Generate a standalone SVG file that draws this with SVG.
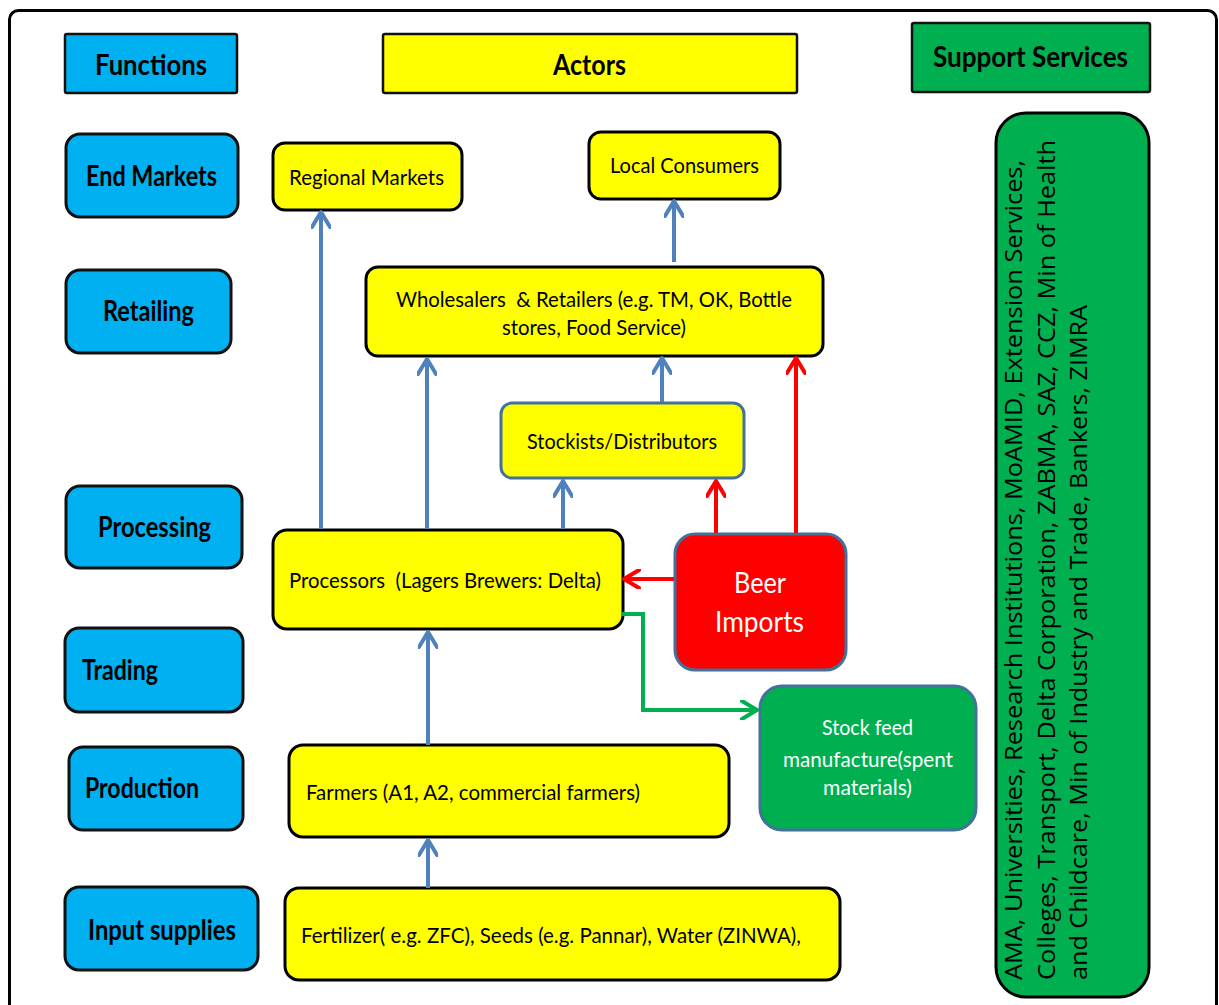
<svg xmlns="http://www.w3.org/2000/svg" width="1219" height="1005" viewBox="0 0 1219 1005">
<defs>
<style>
.frame{fill:#fff;stroke:#000;stroke-width:3}
.hdr{stroke:#111;stroke-width:2.5}
.fn{fill:#00B0F0;stroke:#111;stroke-width:3}
.ya{fill:#FFFF00;stroke:#000;stroke-width:3}
.yb{fill:#FFFF00;stroke:#41719C;stroke-width:3}
.red{fill:#FF0000;stroke:#41719C;stroke-width:3}
.grn{fill:#00B050;stroke:#41719C;stroke-width:3}
.sup{fill:#00B050;stroke:#000;stroke-width:3}
.hb{font-family:Lato,"Noto Sans","Liberation Sans",sans-serif;font-weight:bold;font-size:28px;fill:#000}
.t{font-family:Lato,"Noto Sans","Liberation Sans",sans-serif;font-size:22px;fill:#000;white-space:pre}
.tw{font-family:Lato,"Noto Sans","Liberation Sans",sans-serif;fill:#fff}
.rot{font-family:"Open Sans","Noto Sans","DejaVu Sans",sans-serif;font-size:24px;fill:#000}
.cb{fill:none;stroke:#4F81BD;stroke-width:4}
.cr{fill:none;stroke:#FF0000;stroke-width:4}
.cg{fill:none;stroke:#00B050;stroke-width:4}
</style>
<marker id="ab" viewBox="0 0 20 20" refX="17" refY="10" markerWidth="20" markerHeight="20" markerUnits="userSpaceOnUse" orient="auto"><path d="M2,1 L17,10 L2,19" fill="none" stroke="#4F81BD" stroke-width="4" stroke-linecap="round" stroke-linejoin="round"/></marker>
<marker id="ar" viewBox="0 0 20 20" refX="17" refY="10" markerWidth="20" markerHeight="20" markerUnits="userSpaceOnUse" orient="auto"><path d="M2,1 L17,10 L2,19" fill="none" stroke="#FF0000" stroke-width="4" stroke-linecap="round" stroke-linejoin="round"/></marker>
<marker id="ag" viewBox="0 0 20 20" refX="17" refY="10" markerWidth="20" markerHeight="20" markerUnits="userSpaceOnUse" orient="auto"><path d="M2,1 L17,10 L2,19" fill="none" stroke="#00B050" stroke-width="4" stroke-linecap="round" stroke-linejoin="round"/></marker>
</defs>
<rect width="1219" height="1005" fill="#fff"/>
<rect class="frame" x="9.5" y="10.5" width="1207" height="1010" rx="9"/>

<g id="hdr-functions"><rect class="hdr" x="65" y="34" width="172" height="59" rx="2" fill="#00B0F0"/><text class="hb" x="95" y="75" textLength="112" lengthAdjust="spacingAndGlyphs">Functions</text></g>
<g id="hdr-actors"><rect class="hdr" x="383" y="34" width="414" height="59" rx="2" fill="#FFFF00"/><text class="hb" x="553" y="75" textLength="73" lengthAdjust="spacingAndGlyphs">Actors</text></g>
<g id="hdr-support"><rect class="hdr" x="912" y="23" width="238" height="69" rx="2" fill="#00B050"/><text class="hb" x="933" y="67" textLength="195" lengthAdjust="spacingAndGlyphs">Support Services</text></g>

<g id="fn-end-markets"><rect class="fn" x="66" y="134" width="172" height="83" rx="14"/><text class="hb" x="86" y="186" textLength="131" lengthAdjust="spacingAndGlyphs">End Markets</text></g>
<g id="fn-retailing"><rect class="fn" x="66" y="270" width="165" height="83" rx="14"/><text class="hb" x="103" y="321" textLength="91" lengthAdjust="spacingAndGlyphs">Retailing</text></g>
<g id="fn-processing"><rect class="fn" x="66" y="486" width="176" height="82" rx="14"/><text class="hb" x="98" y="537" textLength="113" lengthAdjust="spacingAndGlyphs">Processing</text></g>
<g id="fn-trading"><rect class="fn" x="65" y="628" width="178" height="84" rx="14"/><text class="hb" x="82" y="680" textLength="76" lengthAdjust="spacingAndGlyphs">Trading</text></g>
<g id="fn-production"><rect class="fn" x="69" y="747" width="174" height="83" rx="14"/><text class="hb" x="85" y="798" textLength="114" lengthAdjust="spacingAndGlyphs">Production</text></g>
<g id="fn-input"><rect class="fn" x="65" y="887" width="193" height="83" rx="14"/><text class="hb" x="88" y="940" textLength="148" lengthAdjust="spacingAndGlyphs">Input supplies</text></g>

<g id="regional-markets"><rect class="ya" x="273" y="143" width="189" height="67" rx="12"/><text class="t" x="289" y="185" textLength="155" lengthAdjust="spacingAndGlyphs">Regional Markets</text></g>
<g id="local-consumers"><rect class="ya" x="589" y="132" width="191" height="67" rx="12"/><text class="t" x="610" y="173" textLength="149" lengthAdjust="spacingAndGlyphs">Local Consumers</text></g>
<g id="wholesalers"><rect class="ya" x="366" y="267" width="457" height="89" rx="12"/><text class="t" x="396" y="307" textLength="396" lengthAdjust="spacingAndGlyphs">Wholesalers  &amp; Retailers (e.g. TM, OK, Bottle</text><text class="t" x="502" y="335" textLength="184" lengthAdjust="spacingAndGlyphs">stores, Food Service)</text></g>
<g id="stockists"><rect class="yb" x="501" y="403" width="243" height="75" rx="11"/><text class="t" x="527" y="449" textLength="190" lengthAdjust="spacingAndGlyphs">Stockists/Distributors</text></g>
<g id="processors"><rect class="ya" x="273" y="530" width="350" height="99" rx="14"/><text class="t" x="289" y="588" textLength="312" lengthAdjust="spacingAndGlyphs">Processors  (Lagers Brewers: Delta)</text></g>
<g id="beer-imports"><rect class="red" x="675" y="534" width="171" height="136" rx="20"/><text class="tw" x="734" y="593" font-size="28" textLength="52" lengthAdjust="spacingAndGlyphs">Beer</text><text class="tw" x="715" y="632" font-size="28" textLength="89" lengthAdjust="spacingAndGlyphs">Imports</text></g>
<g id="stock-feed"><rect class="grn" x="760" y="686" width="216" height="144" rx="22"/><text class="tw" x="822" y="735" font-size="22" textLength="91" lengthAdjust="spacingAndGlyphs">Stock feed</text><text class="tw" x="783" y="767" font-size="22" textLength="170" lengthAdjust="spacingAndGlyphs">manufacture(spent</text><text class="tw" x="823" y="795" font-size="22" textLength="89" lengthAdjust="spacingAndGlyphs">materials)</text></g>
<g id="farmers"><rect class="ya" x="289" y="745" width="440" height="92" rx="14"/><text class="t" x="306" y="800" textLength="334" lengthAdjust="spacingAndGlyphs">Farmers (A1, A2, commercial farmers)</text></g>
<g id="inputs"><rect class="ya" x="285" y="888" width="555" height="92" rx="14"/><text class="t" x="301" y="943" textLength="500" lengthAdjust="spacingAndGlyphs">Fertilizer( e.g. ZFC), Seeds (e.g. Pannar), Water (ZINWA),</text></g>

<g id="support-services"><rect class="sup" x="996" y="113" width="153" height="884" rx="30"/>
<text class="rot" transform="translate(1022,980) rotate(-90)" x="0" y="0" textLength="820" lengthAdjust="spacingAndGlyphs">AMA, Universities, Research Institutions, MoAMID, Extension Services,</text>
<text class="rot" transform="translate(1055,980) rotate(-90)" x="0" y="0" textLength="840" lengthAdjust="spacingAndGlyphs">Colleges, Transport, Delta Corporation, ZABMA, SAZ, CCZ, Min of Health</text>
<text class="rot" transform="translate(1087,980) rotate(-90)" x="0" y="0" textLength="675" lengthAdjust="spacingAndGlyphs">and Childcare, Min of Industry and Trade, Bankers, ZIMRA</text>
</g>

<g id="connectors">
<line class="cb" x1="321" y1="529" x2="321" y2="212" marker-end="url(#ab)"/>
<line class="cb" x1="427" y1="529" x2="427" y2="359" marker-end="url(#ab)"/>
<line class="cb" x1="563" y1="529" x2="563" y2="481" marker-end="url(#ab)"/>
<line class="cb" x1="662" y1="402" x2="662" y2="358" marker-end="url(#ab)"/>
<line class="cb" x1="674" y1="262" x2="674" y2="201" marker-end="url(#ab)"/>
<line class="cb" x1="428" y1="745" x2="428" y2="632" marker-end="url(#ab)"/>
<line class="cb" x1="428" y1="888" x2="428" y2="840" marker-end="url(#ab)"/>
<line class="cr" x1="716" y1="533" x2="716" y2="481" marker-end="url(#ar)"/>
<line class="cr" x1="796" y1="533" x2="796" y2="358" marker-end="url(#ar)"/>
<line class="cr" x1="674" y1="579" x2="624" y2="579" marker-end="url(#ar)"/>
<path class="cg" d="M621,614 H643 V710 H757" marker-end="url(#ag)"/>
</g>
</svg>
